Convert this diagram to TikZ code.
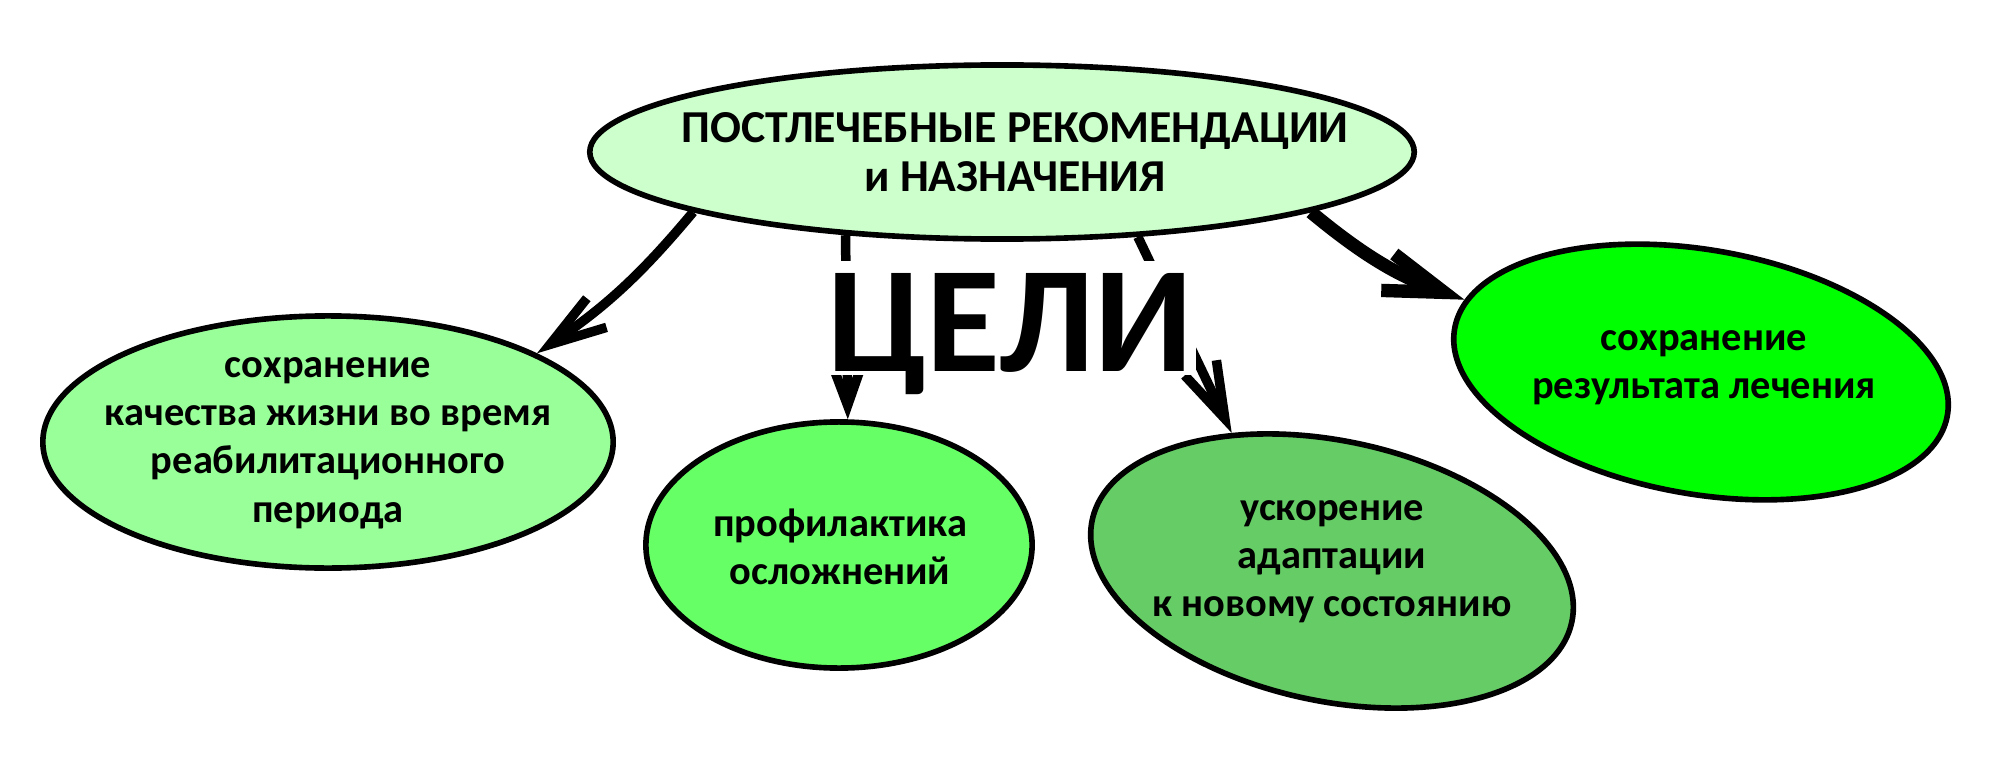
\documentclass[tikz,border=0pt]{standalone}
\usepackage{fontspec}
\setmainfont{Carlito}
\usetikzlibrary{arrows.meta,shapes.geometric}

\definecolor{palegreen}{HTML}{CCFFCC}
\definecolor{lightgreen}{HTML}{99FF99}
\definecolor{brightgreen}{HTML}{66FF66}
\definecolor{softgreen}{HTML}{66CC66}
\definecolor{puregreen}{HTML}{00FF00}

\begin{document}
\begin{tikzpicture}[x=0.01cm, y=0.01cm,
    blob/.style={ellipse, draw, line width=1.6pt, inner sep=0pt},
    blobtext/.style={align=center, inner sep=0pt, font=\bfseries\fontsize{11.5}{13.7}\selectfont},
    arr/.style={line width=2.7pt, -{Straight Barb[length=16pt,width=10pt]}}]
    % Fix the canvas
    \useasboundingbox (0,0) rectangle (2000,-779);

    % Draw the main blob and the four goal blobs
    \node[blob, fill=palegreen, minimum width=8.24cm, minimum height=1.74cm] (recs) at (1002,-152) {};
    \node[blob, fill=lightgreen, minimum width=5.7cm, minimum height=2.52cm] (quality) at (328,-442) {};
    \node[blob, fill=brightgreen, minimum width=3.86cm, minimum height=2.46cm] (prevent) at (839,-545) {};
    \node[blob, fill=softgreen, minimum width=4.9cm, minimum height=2.6cm, rotate=-12] (adapt) at (1332,-571) {};
    \node[blob, fill=puregreen, minimum width=5.0cm, minimum height=2.44cm, rotate=-10] (result) at (1701,-372) {};

    % Put the texts in the blobs
    \node[blobtext, font=\bfseries\fontsize{13}{14}\selectfont] (recs-t) at (1015,-152) {ПОСТЛЕЧЕБНЫЕ РЕКОМЕНДАЦИИ\\и НАЗНАЧЕНИЯ};
    \node[blobtext] (quality-t) at (328,-443) {сохранение\\качества жизни во время\\реабилитационного\\периода};
    \node[blobtext] (prevent-t) at (840,-547) {профилактика\\осложнений};
    \node[blobtext] (adapt-t) at (1332,-562) {ускорение\\адаптации\\к новому состоянию};
    \node[blobtext] (result-t) at (1704,-368) {сохранение\\результата лечения};

    % Draw the arrows from the main blob
    \draw[arr] (recs.191) to[bend left=8] (quality.23);
    \draw[arr, -{Straight Barb[length=11pt,width=8pt]}] (recs.208) -- (prevent.86);
    \draw[arr] (recs.328) -- (adapt.138);
    \draw[arr, line width=3.8pt, -{Straight Barb[length=17pt,width=11pt]}] (recs.349) to[bend right=10] (result.173);

    % Label the goals over the arrows
    \node[fill=white, inner xsep=1pt, inner ysep=1pt, text height=30.5pt, text depth=0pt,
          font=\bfseries\fontsize{43}{43}\selectfont] (goals) at (1010,-318) {ЦЕЛИ};
\end{tikzpicture}
\end{document}
